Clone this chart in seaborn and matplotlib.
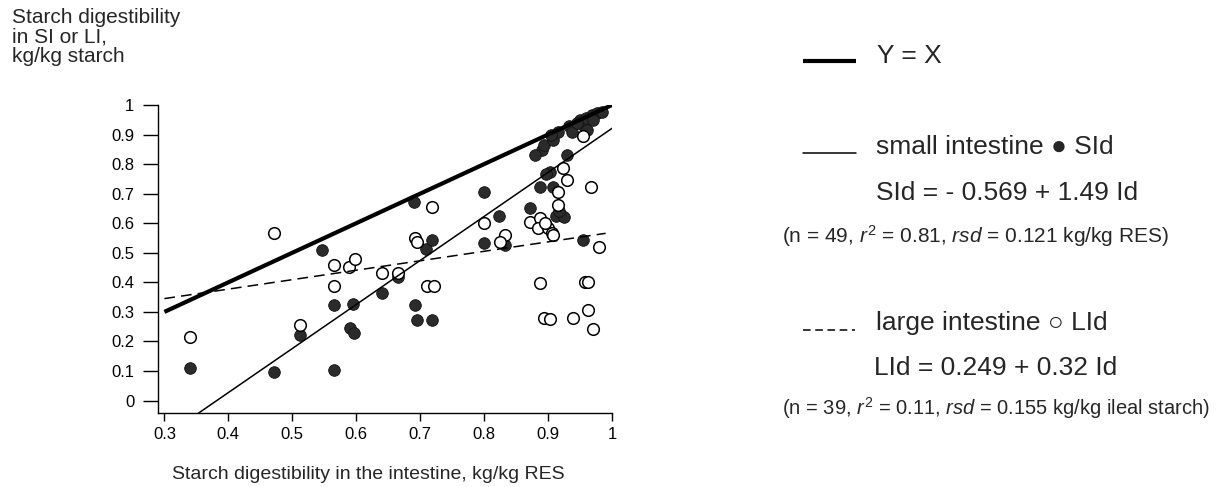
import matplotlib
matplotlib.use('Agg')
import numpy as np
import pandas as pd
import matplotlib.pyplot as plt
import seaborn as sns
from matplotlib.lines import Line2D

# Small intestine digestibility (filled dots) vs intestinal digestibility
si_x = [0.340, 0.472, 0.512, 0.546, 0.565, 0.565, 0.591, 0.597, 0.595, 0.640,
        0.666, 0.691, 0.692, 0.695, 0.709, 0.719, 0.719, 0.800, 0.800, 0.823,
        0.833, 0.872, 0.887, 0.890, 0.893, 0.903, 0.908, 0.908, 0.916, 0.921,
        0.929, 0.932, 0.937, 0.950, 0.955, 0.955, 0.961, 0.968, 0.976, 0.912,
        0.897, 0.960, 0.945, 0.925, 0.880, 0.970, 0.917, 0.985, 0.905]
si_y = [0.110, 0.098, 0.222, 0.510, 0.324, 0.104, 0.245, 0.228, 0.327, 0.365,
        0.417, 0.673, 0.324, 0.271, 0.513, 0.543, 0.273, 0.707, 0.532, 0.625,
        0.527, 0.651, 0.724, 0.848, 0.865, 0.774, 0.724, 0.882, 0.910, 0.628,
        0.831, 0.929, 0.910, 0.949, 0.932, 0.543, 0.915, 0.966, 0.972, 0.625,
        0.768, 0.955, 0.940, 0.620, 0.830, 0.950, 0.640, 0.975, 0.900]

# Large intestine digestibility (open dots)
li_x = [0.340, 0.472, 0.512, 0.565, 0.565, 0.588, 0.598, 0.640, 0.666, 0.692,
        0.695, 0.710, 0.721, 0.719, 0.800, 0.833, 0.825, 0.872, 0.887, 0.885,
        0.900, 0.906, 0.908, 0.916, 0.916, 0.924, 0.929, 0.954, 0.967, 0.979,
        0.888, 0.958, 0.962, 0.893, 0.903, 0.939, 0.962, 0.970, 0.895]
li_y = [0.214, 0.566, 0.254, 0.457, 0.386, 0.453, 0.479, 0.431, 0.431, 0.549,
        0.538, 0.388, 0.388, 0.656, 0.600, 0.560, 0.538, 0.605, 0.617, 0.583,
        0.583, 0.566, 0.561, 0.662, 0.707, 0.786, 0.746, 0.895, 0.722, 0.521,
        0.397, 0.402, 0.402, 0.279, 0.275, 0.279, 0.307, 0.241, 0.600]

# regression coefficients from the legend
si_fit = (-0.569, 1.49)
li_fit = (0.249, 0.32)
diag_x = [0.3, 1.0]
si_line_x = [0.3, 1.0]
li_line_x = [0.3, 0.99]

x_ticks = [0.3, 0.4, 0.5, 0.6, 0.7, 0.8, 0.9, 1.0]
x_labels = ['0.3', '0.4', '0.5', '0.6', '0.7', '0.8', '0.9', '1']
y_ticks = [0, 0.1, 0.2, 0.3, 0.4, 0.5, 0.6, 0.7, 0.8, 0.9, 1.0]
y_labels = ['0', '0.1', '0.2', '0.3', '0.4', '0.5', '0.6', '0.7', '0.8', '0.9', '1']

sns.set_style('ticks')
plt.rcParams['font.family'] = ['Liberation Sans', 'DejaVu Sans']
plt.rcParams['mathtext.fontset'] = 'custom'
plt.rcParams['mathtext.rm'] = 'Liberation Sans'
plt.rcParams['mathtext.it'] = 'Liberation Sans:italic'

df_si = pd.DataFrame({'Id': si_x, 'SId': si_y})
df_li = pd.DataFrame({'Id': li_x, 'LId': li_y})

fig = plt.figure(figsize=(12.23, 4.87), dpi=100)
ax = fig.add_axes([0.1292, 0.152, 0.3712, 0.6324])

sns.scatterplot(data=df_si, x='Id', y='SId', ax=ax, s=70, color='#2b2b2b',
                edgecolor='#111111', linewidth=0.6, zorder=3)
sns.scatterplot(data=df_li, x='Id', y='LId', ax=ax, s=70, color='white',
                edgecolor='black', linewidth=1.1, zorder=3)

# Y = X and the two regression lines
ax.plot(diag_x, diag_x, color='black', lw=3.0, zorder=4, solid_capstyle='butt')
sx = np.array(si_line_x)
ax.plot(sx, si_fit[0] + si_fit[1] * sx, color='black', lw=1.1, zorder=4)
lx = np.array(li_line_x)
ax.plot(lx, li_fit[0] + li_fit[1] * lx, color='black', lw=1.1,
        dashes=(7, 4), zorder=4)

ax.set_xlim(0.29, 1.0)
ax.set_ylim(-0.042, 1.0)
ax.set_xticks(x_ticks)
ax.set_xticklabels(x_labels)
ax.set_yticks(y_ticks)
ax.set_yticklabels(y_labels)
ax.set_xlabel('')
ax.set_ylabel('')
sns.despine(ax=ax)
for side in ['left', 'bottom']:
    ax.spines[side].set_linewidth(1.0)
    ax.spines[side].set_color('black')
ax.tick_params(axis='y', length=11, width=1, pad=6, labelsize=12, colors='black')
ax.tick_params(axis='x', length=6, width=1, pad=4, labelsize=12, colors='black')

fig.text(12 / 1223, 1 - 8 / 487, 'Starch digestibility\nin SI or LI,\nkg/kg starch',
         ha='left', va='top', fontsize=15, linespacing=1.05)
fig.text(172 / 1223, (487 - 479) / 487,
         'Starch digestibility in the intestine, kg/kg RES',
         ha='left', va='baseline', fontsize=14)

# legend drawn by hand, in figure pixels
def fx(px):
    return px / 1223

def fy(py):
    return (487 - py) / 487

fig.add_artist(Line2D([fx(803), fx(856)], [fy(61), fy(61)], color='black', lw=3.0,
                      solid_capstyle='butt'))
fig.text(fx(877), fy(63), 'Y = X', ha='left', va='baseline', fontsize=19)

fig.add_artist(Line2D([fx(803), fx(856)], [fy(153), fy(153)], color='black', lw=1.1))
fig.text(fx(876), fy(154), 'small intestine \u25CF SId', ha='left', va='baseline', fontsize=19)
fig.text(fx(876), fy(200), 'SId = - 0.569 + 1.49 Id', ha='left', va='baseline', fontsize=19)
fig.text(fx(782), fy(243), r'(n = 49, $r^2$ = 0.81, $rsd$ = 0.121 kg/kg RES)',
         ha='left', va='baseline', fontsize=15)

fig.add_artist(Line2D([fx(803), fx(855)], [fy(330), fy(330)], color='black', lw=1.1,
                      dashes=(5, 3)))
fig.text(fx(876), fy(330), 'large intestine \u25CB LId', ha='left', va='baseline', fontsize=19)
fig.text(fx(874), fy(375), 'LId = 0.249 + 0.32 Id', ha='left', va='baseline', fontsize=19)
fig.text(fx(782), fy(415), r'(n = 39, $r^2$ = 0.11, $rsd$ = 0.155 kg/kg ileal starch)',
         ha='left', va='baseline', fontsize=14.5)

fig.savefig('out.png', dpi=100)
plt.close(fig)
